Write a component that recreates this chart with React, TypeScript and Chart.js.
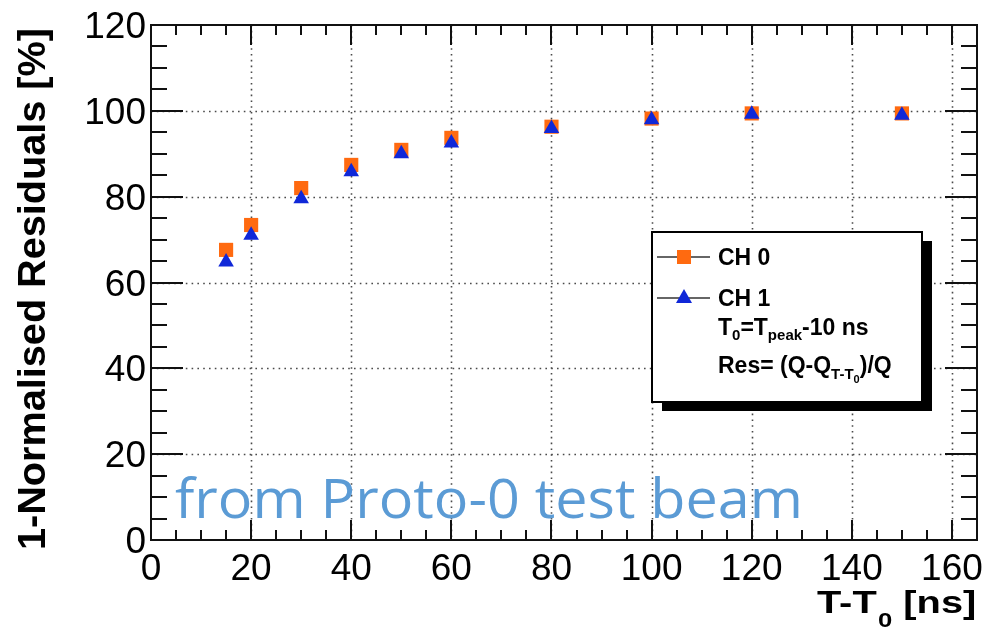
import { useEffect, useRef } from "react";
import { Chart, registerables } from "chart.js";

Chart.register(...registerables);

// ---- data ----
const xValues = [15, 20, 30, 40, 50, 60, 80, 100, 120, 150];
const ch0Values = [67.6, 73.4, 82.0, 87.4, 90.9, 93.7, 96.3, 98.2, 99.4, 99.4];
const ch1Values = [64.8, 71.0, 79.5, 85.8, 90.0, 92.5, 95.9, 97.9, 99.2, 99.0];
const xTickLabels = [0, 20, 40, 60, 80, 100, 120, 140, 160];
const yTickLabels = [0, 20, 40, 60, 80, 100, 120];
const xMinorTicks = [0, 5, 10, 15, 20, 25, 30, 35, 40, 45, 50, 55, 60, 65, 70, 75, 80, 85, 90, 95, 100, 105, 110, 115, 120, 125, 130, 135, 140, 145, 150, 155, 160, 165];
const yMinorTicks = [0, 5, 10, 15, 20, 25, 30, 35, 40, 45, 50, 55, 60, 65, 70, 75, 80, 85, 90, 95, 100, 105, 110, 115, 120];
const X_MIN = 0;
const X_MAX = 165;
const Y_MIN = 0;
const Y_MAX = 120;
const seriesNames = ["CH 0", "CH 1"];
const xTitle = ["T-T", "0", " [ns]"];
const yTitle = "1-Normalised Residuals [%]";
const note = "from Proto-0 test beam";

const ORANGE = "#ff6a10";
const BLUE = "#1028d8";
const FONT = "'Liberation Sans', Arial, Helvetica, sans-serif";

const rootPlugin = {
  id: "rootStyle",
  beforeDraw(chart: any) {
    const ctx = chart.ctx;
    ctx.save();
    ctx.fillStyle = "#ffffff";
    ctx.fillRect(0, 0, chart.width, chart.height);
    ctx.restore();
  },
  beforeDatasetsDraw(chart: any) {
    const ctx = chart.ctx;
    const xs = chart.scales.x;
    const ys = chart.scales.y;
    const a = chart.chartArea;
    ctx.save();
    ctx.strokeStyle = "#4a4a4a";
    ctx.lineWidth = 1.6;
    ctx.setLineDash([1.6, 4.2]);
    for (const v of xTickLabels) {
      if (v <= X_MIN || v >= X_MAX) continue;
      const px = Math.round(xs.getPixelForValue(v)) + 0.5;
      ctx.beginPath();
      ctx.moveTo(px, a.top);
      ctx.lineTo(px, a.bottom);
      ctx.stroke();
    }
    for (const v of yTickLabels) {
      if (v <= Y_MIN || v >= Y_MAX) continue;
      const py = Math.round(ys.getPixelForValue(v)) + 0.5;
      ctx.beginPath();
      ctx.moveTo(a.left, py);
      ctx.lineTo(a.right, py);
      ctx.stroke();
    }
    ctx.restore();
  },
  afterDatasetsDraw(chart: any) {
    const ctx = chart.ctx;
    const xs = chart.scales.x;
    const ys = chart.scales.y;
    const a = chart.chartArea;
    ctx.save();
    // ticks
    ctx.strokeStyle = "#111";
    ctx.lineWidth = 2;
    ctx.setLineDash([]);
    for (const v of xMinorTicks) {
      const px = Math.round(xs.getPixelForValue(v));
      const major = xTickLabels.includes(v);
      const len = major ? 20 : 10;
      ctx.beginPath();
      ctx.moveTo(px, a.bottom);
      ctx.lineTo(px, a.bottom - len);
      ctx.moveTo(px, a.top);
      ctx.lineTo(px, a.top + len);
      ctx.stroke();
    }
    for (const v of yMinorTicks) {
      const py = Math.round(ys.getPixelForValue(v));
      const major = yTickLabels.includes(v);
      const len = major ? 32 : 16;
      ctx.beginPath();
      ctx.moveTo(a.left, py);
      ctx.lineTo(a.left + len, py);
      ctx.moveTo(a.right, py);
      ctx.lineTo(a.right - len, py);
      ctx.stroke();
    }
    // frame
    ctx.lineWidth = 2;
    ctx.strokeRect(a.left, a.top, a.right - a.left, a.bottom - a.top);

    // tick labels
    ctx.fillStyle = "#000";
    ctx.font = `37px ${FONT}`;
    ctx.textBaseline = "alphabetic";
    ctx.textAlign = "center";
    for (const v of xTickLabels) {
      ctx.fillText(String(v), xs.getPixelForValue(v), 580);
    }
    ctx.textAlign = "right";
    for (const v of yTickLabels) {
      ctx.fillText(String(v), a.left - 5, ys.getPixelForValue(v) + 13);
    }

    // y title
    ctx.save();
    ctx.font = `bold 38px ${FONT}`;
    const yw = ctx.measureText(yTitle).width;
    ctx.translate(45, 289);
    ctx.rotate(-Math.PI / 2);
    ctx.scale(522 / yw, 1);
    ctx.textAlign = "center";
    ctx.fillText(yTitle, 0, 0);
    ctx.restore();

    // x title (right aligned)
    ctx.save();
    ctx.textAlign = "left";
    const bigF = `bold 31px ${FONT}`;
    const subF = `bold 20px ${FONT}`;
    ctx.font = bigF;
    const w1 = ctx.measureText(xTitle[0]).width;
    const w3 = ctx.measureText(xTitle[2]).width;
    ctx.font = subF;
    const w2 = ctx.measureText(xTitle[1]).width;
    const total = w1 + w2 + w3;
    const sx = 158 / total;
    ctx.translate(975 - 158, 613);
    ctx.scale(sx, 1);
    ctx.font = bigF;
    ctx.fillText(xTitle[0], 0, 0);
    ctx.font = subF;
    ctx.fillText(xTitle[1], w1 + 1, 14);
    ctx.font = bigF;
    ctx.fillText(xTitle[2], w1 + w2 + 1, 0);
    ctx.restore();

    // legend
    const lx = 652, ly = 232, lw = 270, lh = 170;
    ctx.fillStyle = "#000";
    ctx.fillRect(lx + 10, ly + 9, lw, lh);
    ctx.fillStyle = "#fff";
    ctx.fillRect(lx, ly, lw, lh);
    ctx.strokeStyle = "#000";
    ctx.lineWidth = 2;
    ctx.strokeRect(lx, ly, lw, lh);
    const rows = [257, 298];
    ctx.strokeStyle = "#333";
    ctx.lineWidth = 1.5;
    for (const ry of rows) {
      ctx.beginPath();
      ctx.moveTo(657, ry);
      ctx.lineTo(710, ry);
      ctx.stroke();
    }
    ctx.fillStyle = ORANGE;
    ctx.fillRect(684 - 7, rows[0] - 7, 14, 14);
    ctx.fillStyle = BLUE;
    ctx.beginPath();
    ctx.moveTo(684, rows[1] - 9);
    ctx.lineTo(684 + 8, rows[1] + 5);
    ctx.lineTo(684 - 8, rows[1] + 5);
    ctx.closePath();
    ctx.fill();

    ctx.fillStyle = "#000";
    ctx.textAlign = "left";
    const lf = `bold 23px ${FONT}`;
    const ls = `bold 15px ${FONT}`;
    ctx.font = lf;
    ctx.fillText(seriesNames[0], 718, 265);
    ctx.fillText(seriesNames[1], 718, 306);
    // T0=Tpeak-10 ns
    let cx = 718;
    const seg = (t: string, f: string, dy: number, by: number) => {
      ctx.font = f;
      ctx.fillText(t, cx, by + dy);
      cx += ctx.measureText(t).width;
    };
    seg("T", lf, 0, 335);
    seg("0", ls, 5, 335);
    seg("=T", lf, 0, 335);
    seg("peak", ls, 5, 335);
    seg("-10 ns", lf, 0, 335);
    cx = 718;
    seg("Res= (Q-Q", lf, 0, 373);
    seg("T-T", ls, 6, 373);
    ctx.font = `bold 11px ${FONT}`;
    ctx.fillText("0", cx, 383);
    cx += ctx.measureText("0").width;
    seg(")/Q", lf, 0, 373);

    // annotation
    ctx.save();
    ctx.fillStyle = "#5b9bd5";
    ctx.font = `400 54px 'Open Sans', Lato, sans-serif`;
    const nw = ctx.measureText(note).width;
    ctx.translate(175, 518);
    ctx.scale(628 / nw, 1);
    ctx.textAlign = "left";
    ctx.fillText(note, 0, 0);
    ctx.restore();

    ctx.restore();
  },
};

export default function App() {
  const ref = useRef<HTMLCanvasElement | null>(null);
  useEffect(() => {
    if (!ref.current) return;
    const chart = new Chart(ref.current, {
      type: "scatter",
      data: {
        datasets: [
          {
            label: seriesNames[0],
            data: xValues.map((x, i) => ({ x, y: ch0Values[i] })),
            backgroundColor: ORANGE,
            borderColor: ORANGE,
            borderWidth: 0,
            pointStyle: "rect",
            pointRadius: 10,
            order: 2,
          },
          {
            label: seriesNames[1],
            data: xValues.map((x, i) => ({ x, y: ch1Values[i] })),
            backgroundColor: BLUE,
            borderColor: BLUE,
            borderWidth: 0,
            pointStyle: "triangle",
            pointRadius: 9,
            order: 1,
          },
        ],
      },
      options: {
        responsive: false,
        animation: false,
        devicePixelRatio: 1,
        layout: { padding: { left: 151, top: 25, right: 11, bottom: 90 } },
        plugins: { legend: { display: false }, tooltip: { enabled: false } },
        scales: {
          x: { type: "linear", min: X_MIN, max: X_MAX, display: false },
          y: { type: "linear", min: Y_MIN, max: Y_MAX, display: false },
        },
        elements: { point: { hoverRadius: 10 } },
        clip: false as any,
      },
      plugins: [rootPlugin],
    });
    return () => chart.destroy();
  }, []);
  return (
    <div style={{ position: "absolute", left: 0, top: 0, width: 988, height: 630 }}>
      <canvas ref={ref} width={988} height={630} style={{ width: 988, height: 630, display: "block" }} />
    </div>
  );
}
